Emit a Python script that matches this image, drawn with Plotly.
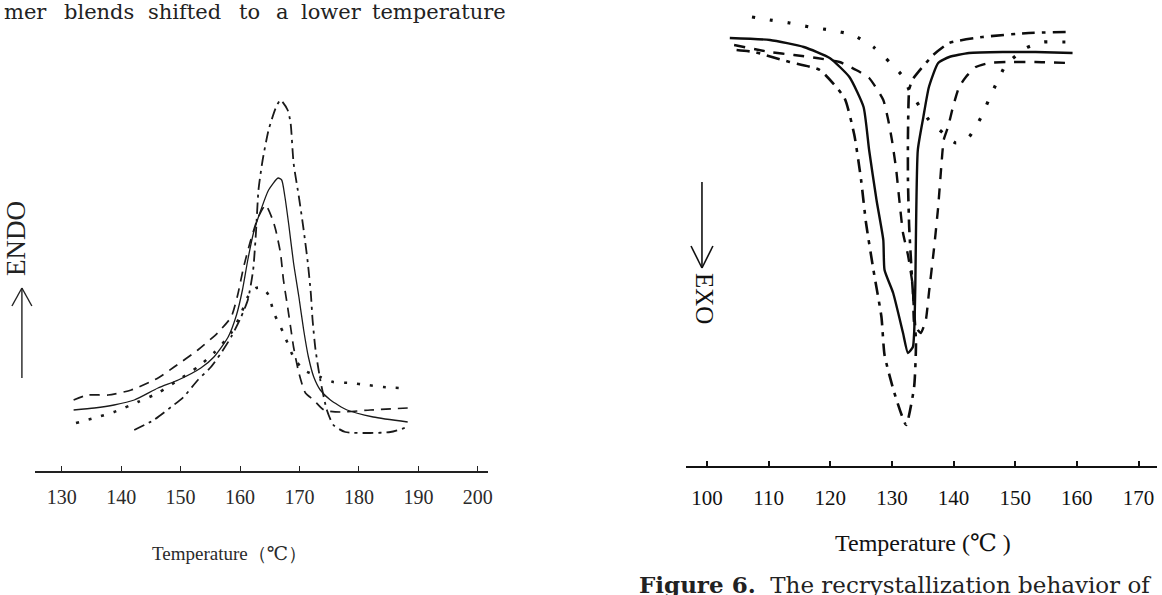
import plotly.graph_objects as go

# ---------------- Left panel: melting (ENDO) ----------------
L_ticks = [130, 140, 150, 160, 170, 180, 190, 200]

L_dashdot_T = [142.2, 145.5, 148.4, 150.5, 152.9, 155.1, 156.8, 158.5, 160.1, 161.3, 162.2, 162.7, 163.1, 163.8,
               164.8, 166.0, 166.8, 168.0, 168.5, 169.0, 169.9, 170.7, 171.4, 171.9, 172.2, 172.7, 173.5, 174.6,
               175.7, 177.7, 181.9, 185.3, 188.2]
L_dashdot_H = [7.2, 8.2, 9.5, 10.5, 12.2, 13.5, 14.9, 16.5, 18.4, 20.2, 23.2, 27.2, 31.2, 34.2,
               37.2, 39.4, 40.2, 39.2, 37.9, 33.9, 30.5, 27.2, 23.9, 20.9, 18.2, 15.2, 12.2, 9.2,
               7.7, 7.0, 6.9, 7.0, 7.5]

L_solid_T = [132.0, 135.5, 138.8, 142.2, 146.2, 149.6, 153.4, 155.6, 158.0, 159.4, 160.4, 161.3, 162.3, 163.5,
             164.8, 166.4, 167.0, 167.5, 168.2, 169.0, 169.9, 170.7, 171.5, 172.4, 173.5, 175.2, 178.0, 182.4, 188.2]
L_solid_H = [9.2, 9.4, 9.7, 10.2, 11.4, 12.2, 13.4, 14.5, 16.5, 18.7, 21.2, 24.2, 27.0, 29.2,
             31.2, 32.4, 32.2, 30.7, 27.7, 23.9, 20.5, 17.2, 14.5, 12.5, 11.2, 10.2, 9.2, 8.5, 8.0]

L_dashed_T = [132.0, 134.4, 137.8, 141.7, 146.2, 148.9, 152.9, 156.2, 158.5, 159.6, 160.6, 161.8, 163.0, 164.3,
              165.5, 166.0, 166.8, 167.3, 168.0, 168.5, 169.0, 169.9, 171.0, 172.4, 174.1, 176.9, 181.9, 188.2]
L_dashed_H = [10.2, 10.7, 10.7, 11.2, 12.4, 13.5, 15.2, 16.9, 18.5, 20.7, 23.5, 26.2, 28.4, 29.7,
              28.2, 27.2, 24.9, 22.2, 19.5, 17.5, 15.5, 12.9, 10.9, 10.2, 9.2, 9.0, 9.2, 9.4]

L_dotted_T = [132.4, 135.5, 138.8, 142.8, 146.2, 149.6, 152.9, 155.6, 158.5, 160.1, 161.3, 162.7, 163.8, 164.8,
              165.7, 167.3, 169.0, 170.7, 173.5, 175.7, 178.6, 181.4, 184.1, 186.9]
L_dotted_H = [7.9, 8.4, 9.0, 10.0, 10.9, 12.2, 13.5, 14.9, 16.9, 18.7, 20.5, 21.4, 21.4, 20.7,
              18.9, 16.9, 14.5, 13.2, 12.5, 12.0, 11.9, 11.7, 11.5, 11.4]

# ---------------- Right panel: crystallization (EXO) ----------------
R_ticks = [100, 110, 120, 130, 140, 150, 160, 170]

R_solid_T = [103.7, 110.2, 115.7, 119.9, 123.1, 125.4, 126.3, 127.5, 128.6, 128.8, 130.2, 131.8, 132.6, 133.4,
             133.6, 133.8, 133.9, 134.2, 135.1, 136.0, 137.5, 139.3, 142.5, 148.0, 153.3, 159.3]
R_solid_H = [44.1, 43.9, 43.2, 42.1, 40.2, 37.2, 32.9, 27.9, 23.9, 20.9, 18.6, 14.6, 12.6, 13.2,
             14.6, 19.6, 24.6, 32.9, 36.2, 39.2, 41.6, 42.2, 42.6, 42.7, 42.7, 42.6]

R_dashdot_T = [104.8, 107.6, 113.4, 118.3, 122.3, 123.9, 125.0, 125.8, 127.0, 128.3, 128.8, 130.4, 132.3, 133.6,
               133.9, 133.3, 132.8, 132.6, 132.6, 132.8, 133.3, 136.7, 139.3, 144.7, 152.2, 158.6]
R_dashdot_H = [42.9, 42.7, 41.7, 40.9, 38.1, 34.4, 29.9, 25.6, 20.9, 16.2, 12.4, 8.6, 5.4, 9.2,
               13.6, 19.6, 25.2, 29.9, 34.2, 38.9, 39.9, 42.4, 43.6, 44.2, 44.6, 44.7]

R_dashed_T = [104.4, 110.2, 114.1, 117.8, 121.5, 124.2, 126.3, 128.6, 129.4, 130.0, 130.7, 131.2, 131.8, 132.6,
              133.4, 133.6, 134.2, 134.7, 135.5, 136.0, 136.8, 137.5, 138.0, 138.4, 139.1, 139.9, 140.9, 142.0,
              143.6, 145.7, 148.5, 153.3, 158.6]
R_dashed_H = [43.4, 42.7, 42.4, 42.1, 41.7, 40.9, 40.1, 37.9, 35.9, 33.9, 30.9, 27.9, 24.6, 22.4,
              19.2, 15.6, 14.9, 14.6, 15.9, 18.6, 22.9, 27.2, 31.2, 33.9, 35.2, 37.2, 39.2, 40.2,
              41.2, 41.6, 41.7, 41.7, 41.6]

R_dotted_T = [107.3, 110.2, 113.4, 116.6, 119.9, 123.7, 127.0, 129.6, 132.0, 132.8, 136.0, 138.3, 140.4, 142.5,
              144.4, 145.7, 147.2, 148.5, 151.7, 154.6, 156.9, 159.0]
R_dotted_H = [46.2, 45.9, 45.6, 45.2, 44.9, 44.4, 43.2, 41.7, 40.1, 38.9, 35.9, 34.6, 33.6, 34.2,
              36.1, 37.9, 39.9, 41.4, 43.1, 43.7, 43.7, 43.7]

W, H = 1162, 595


def px(x):
    return x / W


def py(y):
    return 1 - y / H


fig = go.Figure()

ink_l = "#1a1a1a"
ink_r = "#0d0d0d"

left_series = [
    (L_dotted_T, L_dotted_H, "3px,10px", 2.6),
    (L_dashed_T, L_dashed_H, "10px,7px", 1.7),
    (L_solid_T, L_solid_H, "solid", 1.3),
    (L_dashdot_T, L_dashdot_H, "11px,5px,3px,5px", 1.8),
]
for T, Hh, dash, wd in left_series:
    fig.add_trace(go.Scatter(x=T, y=Hh, mode="lines", xaxis="x", yaxis="y",
                             line=dict(color=ink_l, width=wd, dash=dash, shape="spline", smoothing=0.6),
                             hoverinfo="skip"))

right_series = [
    (R_dotted_T, R_dotted_H, "3px,15px", 3.2),
    (R_dashed_T, R_dashed_H, "11px,9px", 2.4),
    (R_solid_T, R_solid_H, "solid", 2.4),
    (R_dashdot_T, R_dashdot_H, "13px,7px,4px,7px", 2.6),
]
for T, Hh, dash, wd in right_series:
    fig.add_trace(go.Scatter(x=T, y=Hh, mode="lines", xaxis="x2", yaxis="y2",
                             line=dict(color=ink_r, width=wd, dash=dash, shape="spline", smoothing=0.5),
                             hoverinfo="skip"))

serif = "Liberation Serif, DejaVu Serif, serif"

fig.update_layout(
    width=W, height=H,
    margin=dict(l=0, r=0, t=0, b=0),
    paper_bgcolor="white", plot_bgcolor="white",
    showlegend=False,
    xaxis=dict(domain=[px(35), px(490)], range=[125.48, 201.69], anchor="y",
               tickvals=L_ticks, ticktext=[str(t) for t in L_ticks],
               ticks="inside", ticklen=5, tickwidth=1.2, tickcolor="#222",
               showline=True, linecolor="#222", linewidth=1.6,
               showgrid=False, zeroline=False,
               tickfont=dict(family=serif, size=20, color="#2a2a2a"), ticklabelstandoff=7),
    yaxis=dict(domain=[py(471), 1], range=[3.1, 50.2], visible=False),
    xaxis2=dict(domain=[px(689), 1], range=[96.6, 173.0], anchor="y2",
                tickvals=R_ticks, ticktext=[str(t) for t in R_ticks],
                ticks="inside", ticklen=5, tickwidth=1.5, tickcolor="#111",
                showline=True, linecolor="#111", linewidth=2.2,
                showgrid=False, zeroline=False,
                tickfont=dict(family=serif, size=21, color="#111"), ticklabelstandoff=12),
    yaxis2=dict(domain=[py(466), 1], range=[1.3, 47.9], visible=False),
)

ann = []
# axis titles
ann.append(dict(x=px(230), y=py(553), xref="paper", yref="paper", showarrow=False,
                xanchor="center", yanchor="middle",
                text="Temperature（℃）", font=dict(family=serif, size=19, color="#2a2a2a")))
ann.append(dict(x=px(927), y=py(543), xref="paper", yref="paper", showarrow=False,
                xanchor="center", yanchor="middle",
                text="Temperature (℃ )", font=dict(family=serif, size=24, color="#111")))
# ENDO / EXO
ann.append(dict(x=px(16), y=py(238), xref="paper", yref="paper", showarrow=False, textangle=-90,
                xanchor="center", yanchor="middle",
                text="ENDO", font=dict(family=serif, size=27, color="#222")))
ann.append(dict(x=px(708), y=py(299), xref="paper", yref="paper", showarrow=False, textangle=90,
                xanchor="center", yanchor="middle",
                text="EXO", font=dict(family=serif, size=25, color="#111")))
# top running text (justified words)
words = [("mer", 2), ("blends", 62), ("shifted", 147), ("to", 238), ("a", 275), ("lower", 300), ("temperature", 372)]
for w, x0 in words:
    ann.append(dict(x=px(x0), y=py(12), xref="paper", yref="paper", showarrow=False,
                    xanchor="left", yanchor="middle",
                    text=w, font=dict(family="DejaVu Serif, serif", size=21, color="#222")))
# caption at bottom right (cut by page edge, as in the source page)
ann.append(dict(x=px(640), y=py(584), xref="paper", yref="paper", showarrow=False,
                xanchor="left", yanchor="middle",
                text="<b>Figure 6.</b>  The recrystallization behavior of",
                font=dict(family="DejaVu Serif, serif", size=23, color="#222")))
fig.update_layout(annotations=ann)

# arrows drawn as shapes (shaft + open chevron)
shapes = []


def arrow(x, y_tail, y_head, half, depth, color, wd):
    d = depth if y_head > y_tail else -depth
    shapes.append(dict(type="line", xref="paper", yref="paper", x0=px(x), y0=py(y_tail), x1=px(x), y1=py(y_head),
                       line=dict(color=color, width=wd)))
    shapes.append(dict(type="line", xref="paper", yref="paper", x0=px(x - half), y0=py(y_head - d), x1=px(x), y1=py(y_head),
                       line=dict(color=color, width=wd)))
    shapes.append(dict(type="line", xref="paper", yref="paper", x0=px(x + half), y0=py(y_head - d), x1=px(x), y1=py(y_head),
                       line=dict(color=color, width=wd)))


arrow(22, 378, 288, 10, 18, "#222", 1.4)
arrow(705, 182, 268, 11, 22, "#111", 1.6)
fig.update_layout(shapes=shapes)

# remove the default 8px page margin so the figure sits at the page's top-left corner
fig.write_html("out.html", config={"displayModeBar": False},
               post_script="document.body.style.margin='0px';document.body.style.overflow='hidden';")
